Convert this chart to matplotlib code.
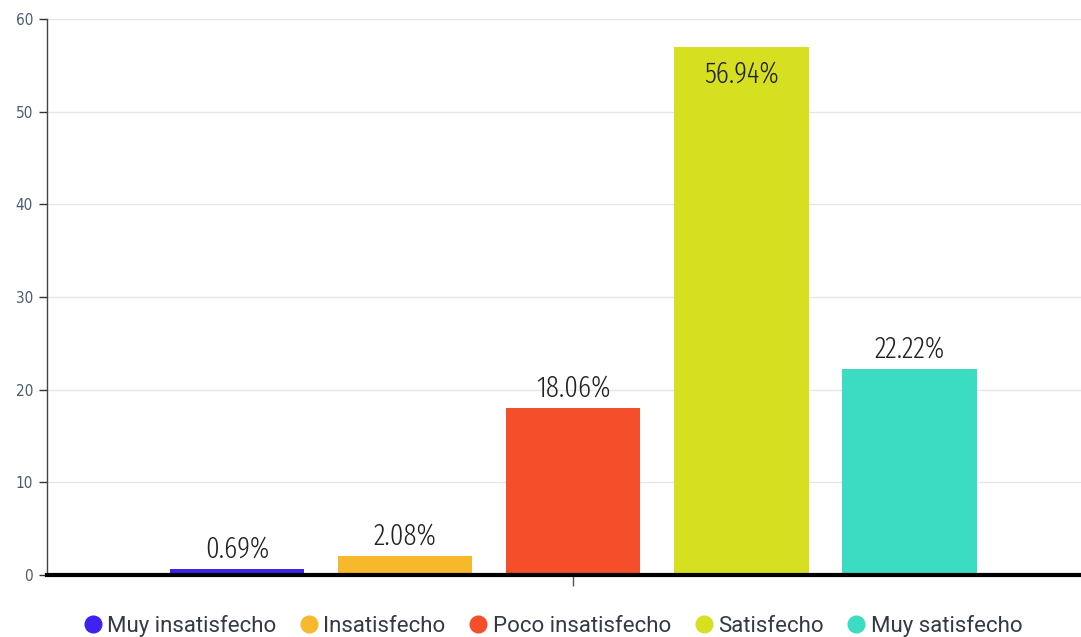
import matplotlib.pyplot as plt
from matplotlib import font_manager
from matplotlib.font_manager import FontProperties
from matplotlib.lines import Line2D

categories = ['Muy insatisfecho', 'Insatisfecho', 'Poco insatisfecho', 'Satisfecho', 'Muy satisfecho']
values = [0.69, 2.08, 18.06, 56.94, 22.22]
colors = ['#3d22f0', '#f7b82b', '#f54e2a', '#d6e021', '#3cdcc3']
y_ticks = [0, 10, 20, 30, 40, 50, 60]


def narrow_font(size, extra=False, weight=400):
    # pick a narrow face among the installed fonts
    found = []
    for f in font_manager.fontManager.ttflist:
        narrow = (str(f.stretch) in ('condensed', 'semi-condensed', 'extra-condensed')
                  or 'Condensed' in f.name or 'Narrow' in f.name
                  or 'Condensed' in f.fname or 'Narrow' in f.fname)
        if narrow and f.style == 'normal' and 'Italic' not in f.fname:
            w = f.weight if isinstance(f.weight, int) else 400
            is_extra = 'ExtraCondensed' in f.fname or str(f.stretch) == 'extra-condensed'
            is_semi = 'SemiCondensed' in f.fname or str(f.stretch) == 'semi-condensed'
            rank = (0 if is_extra == extra else 1, is_semi, abs(w - weight), f.fname)
            found.append(rank)
    if found:
        found.sort()
        return FontProperties(fname=found[0][-1], size=size)
    return FontProperties(family='Roboto', size=size * 0.8)


label_font = narrow_font(21, extra=True, weight=300)
tick_font = narrow_font(11)

fig = plt.figure(figsize=(10.81, 6.37), dpi=100)
ax = fig.add_axes([47 / 1081, 62 / 637, 1 - 47 / 1081, 556 / 637])

offsets = [i - (len(values) - 1) / 2 for i in range(len(values))]
bars = ax.bar(offsets, values, width=0.8, color=colors, zorder=3)

for bar, v in zip(bars, values):
    x = bar.get_x() + bar.get_width() / 2
    if v > 50:
        ax.text(x, v - 1.4, f'{v:.2f}%', ha='center', va='top',
                fontproperties=label_font, color='#222222', zorder=4)
    else:
        ax.text(x, v + 0.6, f'{v:.2f}%', ha='center', va='bottom',
                fontproperties=label_font, color='#222222', zorder=4)

ax.set_xlim(-3.13, 3.02)
ax.set_ylim(0, 60)
ax.set_yticks(y_ticks)
ax.set_yticklabels([str(t) for t in y_ticks], fontproperties=tick_font, color='#4a5a70')
ax.set_xticks([0])
ax.set_xticklabels([''])
ax.tick_params(axis='y', length=6, width=1, color='#333333', pad=4)
ax.tick_params(axis='x', length=8, width=1, color='#555555')

ax.grid(axis='y', color='#e6e6e6', linewidth=1, zorder=0)
for side in ['top', 'right']:
    ax.spines[side].set_visible(False)
ax.spines['left'].set_color('#444444')
ax.spines['left'].set_linewidth(1)
ax.spines['bottom'].set_color('black')
ax.spines['bottom'].set_linewidth(3)
ax.spines['bottom'].set_zorder(5)

handles = [Line2D([], [], marker='o', linestyle='', markersize=12,
                  markerfacecolor=c, markeredgecolor=c) for c in colors]
fig.legend(handles, categories, loc='lower center', bbox_to_anchor=(0.509, -0.031),
           ncol=5, frameon=False, prop={'family': 'Roboto', 'size': 16},
           handletextpad=0.0, columnspacing=0.82, handlelength=1.3, labelcolor='#333a45')

fig.savefig('out.png', dpi=100)
